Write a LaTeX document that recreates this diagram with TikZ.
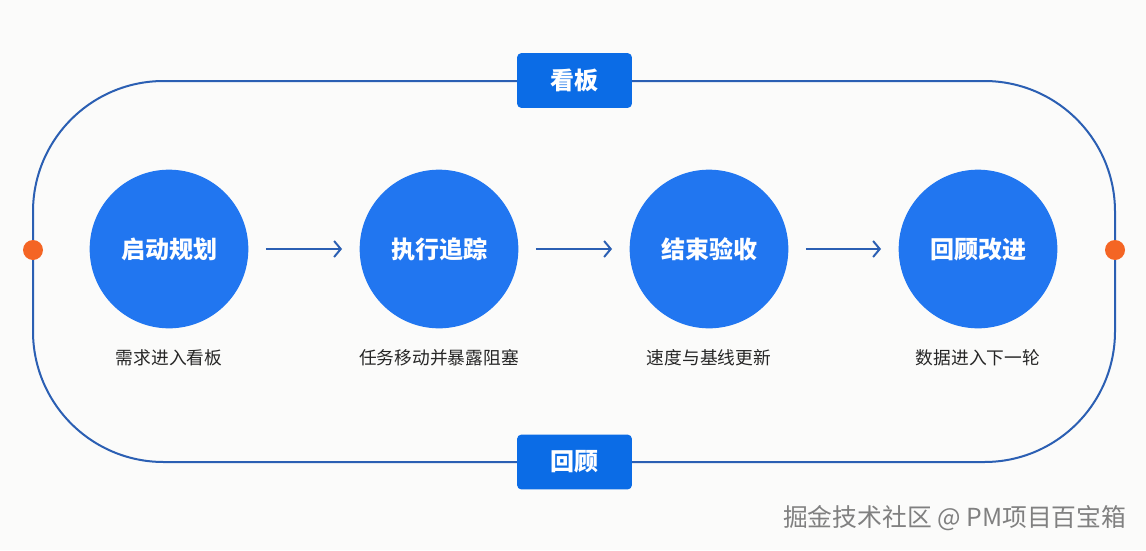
\documentclass[tikz,border=0pt]{standalone}
\usepackage{fontspec}
\usepackage{tikz}
\usetikzlibrary{arrows.meta}
\newfontfamily\cjk{Noto Sans CJK SC}
\definecolor{loopblue}{HTML}{2B5FB3}
\definecolor{stepblue}{HTML}{2176F0}
\definecolor{tagblue}{HTML}{0B6CE6}
\definecolor{dotorange}{HTML}{F46524}
\definecolor{pagebg}{HTML}{FBFBFA}

\begin{document}
\begin{tikzpicture}[x=0.75pt, y=-0.75pt,
      every node/.append style={font=\cjk},
      stage/.style={circle, fill=stepblue, minimum size=119pt, inner sep=0pt,
        text=white, font=\cjk\bfseries\fontsize{18}{20}\selectfont},
      tag/.style={rectangle, rounded corners=3pt, fill=tagblue, minimum width=86pt,
        minimum height=41pt, text=white, font=\cjk\bfseries\fontsize{18}{20}\selectfont},
      note/.style={text=black!85, font=\cjk\fontsize{13.3}{15}\selectfont},
      flow/.style={->, >={Straight Barb[length=5pt,width=12pt]}, draw=loopblue,
        line width=1.5pt, shorten <=13pt, shorten >=13pt}]
    \tikzstyle{dot} = [circle, fill=dotorange, minimum size=15pt, inner sep=0pt]
    \fill[pagebg] (0,0) rectangle (1146,550);
    % the loop
    \draw[loopblue, line width=1.5pt, rounded corners=98pt] (33,81) rectangle (1115,462);
    \node[tag] (board) at (574.5,80.5) {看板};
    \node[tag] (retro) at (574.5,462) {回顾};
    \node[dot] (ldot) at (33,250) {};
    \node[dot] (rdot) at (1115,250) {};
    % stages
    \node[stage] (plan) at (169,249) {启动规划};
    \node[stage] (track) at (439,249) {执行追踪};
    \node[stage] (accept) at (709,249) {结束验收};
    \node[stage] (review) at (978,249) {回顾改进};
    \node[note] (plannote) at (169,358) {需求进入看板};
    \node[note] (tracknote) at (439,358) {任务移动并暴露阻塞};
    \node[note] (acceptnote) at (709,358) {速度与基线更新};
    \node[note] (reviewnote) at (978,358) {数据进入下一轮};
    \draw[flow] (plan) -- (track);
    \draw[flow] (track) -- (accept);
    \draw[flow] (accept) -- (review);
    % watermark
    \node[anchor=east, text=black!50, font=\cjk\fontsize{18.6}{20}\selectfont] (mark) at (1131,518) {掘金技术社区 @ PM项目百宝箱};
\end{tikzpicture}
\end{document}
